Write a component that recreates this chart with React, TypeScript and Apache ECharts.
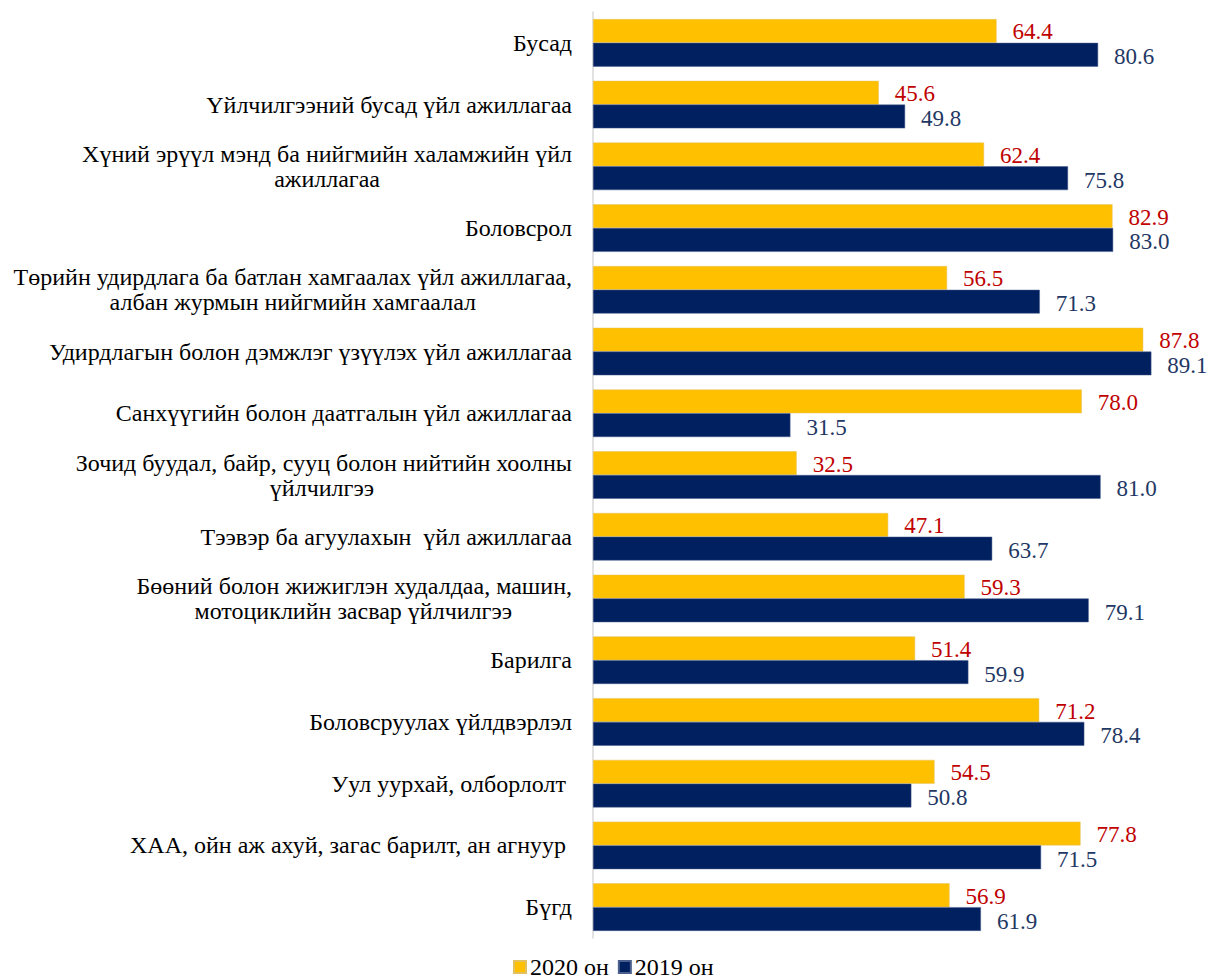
import React, { useEffect, useRef } from "react";
import * as echarts from "echarts";

const categories = [
  "Бүгд",
  "ХАА, ойн аж ахуй, загас барилт, ан агнуур ",
  "Уул уурхай, олборлолт ",
  "Боловсруулах үйлдвэрлэл",
  "Барилга",
  "Бөөний болон жижиглэн худалдаа, машин,\nмотоциклийн засвар үйлчилгээ",
  "Тээвэр ба агуулахын  үйл ажиллагаа",
  "Зочид буудал, байр, сууц болон нийтийн хоолны\nүйлчилгээ",
  "Санхүүгийн болон даатгалын үйл ажиллагаа",
  "Удирдлагын болон дэмжлэг үзүүлэх үйл ажиллагаа",
  "Төрийн удирдлага ба батлан хамгаалах үйл ажиллагаа,\nалбан журмын нийгмийн хамгаалал",
  "Боловсрол",
  "Хүний эрүүл мэнд ба нийгмийн халамжийн үйл\nажиллагаа",
  "Үйлчилгээний бусад үйл ажиллагаа",
  "Бусад",
];

const values2020 = [56.9, 77.8, 54.5, 71.2, 51.4, 59.3, 47.1, 32.5, 78.0, 87.8, 56.5, 82.9, 62.4, 45.6, 64.4];
const values2019 = [61.9, 71.5, 50.8, 78.4, 59.9, 79.1, 63.7, 81.0, 31.5, 89.1, 71.3, 83.0, 75.8, 49.8, 80.6];

const seriesNames = ["2020 он", "2019 он"];

const FONT = "Liberation Serif";
const CAT_SIZE = 24;

// centre the lines of a multi-line label inside a right-aligned block by padding with no-break spaces
function centreLines(label: string): string {
  const lines = label.replace(/ {2}/g, " \u00a0").split("\n");
  if (lines.length < 2) return lines[0];
  const ctx = document.createElement("canvas").getContext("2d");
  if (!ctx) return lines.join("\n");
  ctx.font = `${CAT_SIZE}px ${FONT}`;
  const widths = lines.map((l) => ctx.measureText(l).width);
  const maxW = Math.max(...widths);
  const sp = ctx.measureText("\u00a0").width || CAT_SIZE * 0.25;
  return lines
    .map((l, i) => {
      const n = Math.round((maxW - widths[i]) / 2 / sp);
      return l + "\u00a0".repeat(n);
    })
    .join("\n");
}

export default function App() {
  const ref = useRef<HTMLDivElement>(null);
  useEffect(() => {
    if (!ref.current) return;
    const chart = echarts.init(ref.current, undefined, { renderer: "svg" });
    chart.setOption({
      animation: false,
      textStyle: { fontFamily: FONT },
      grid: { left: 593, top: 12, width: 564, bottom: 41, containLabel: false },
      legend: {
        data: seriesNames,
        top: 950,
        left: 508,
        itemWidth: 12,
        itemHeight: 12,
        itemGap: 9,
        icon: "rect",
        textStyle: { fontFamily: FONT, fontSize: 24, color: "#000", padding: [0, 0, 0, -1] },
      },
      xAxis: {
        type: "value",
        min: 0,
        max: 90,
        show: false,
      },
      yAxis: {
        type: "category",
        data: categories,
        axisLine: { show: true, lineStyle: { color: "#D9D9D9", width: 1.5 } },
        axisTick: { show: false },
        axisLabel: {
          margin: 21,
          align: "right",
          fontFamily: FONT,
          fontSize: CAT_SIZE,
          color: "#000",
          lineHeight: 25,
          formatter: (v: string) => centreLines(v),
        },
      },
      series: [
        {
          name: seriesNames[0],
          type: "bar",
          data: values2020,
          barGap: "0%",
          barCategoryGap: "23%",
          itemStyle: { color: "#FFC000", borderColor: "#E0C060", borderWidth: 0.5 },
          label: {
            show: true,
            position: "right",
            distance: 16,
            formatter: (p: any) => p.value.toFixed(1),
            fontFamily: FONT,
            fontSize: 23,
            color: "#C00000",
            offset: [0, 1],
          },
        },
        {
          name: seriesNames[1],
          type: "bar",
          data: values2019,
          barGap: "0%",
          barCategoryGap: "23%",
          itemStyle: { color: "#002060", borderColor: "#4A5F8C", borderWidth: 0.5 },
          label: {
            show: true,
            position: "right",
            distance: 16,
            formatter: (p: any) => p.value.toFixed(1),
            fontFamily: FONT,
            fontSize: 23,
            color: "#1F3864",
            offset: [0, 2],
          },
        },
      ],
    });
    return () => chart.dispose();
  }, []);
  return (
    <div
      ref={ref}
      style={{ position: "absolute", left: 0, top: 0, width: 1209, height: 979 }}
    />
  );
}
